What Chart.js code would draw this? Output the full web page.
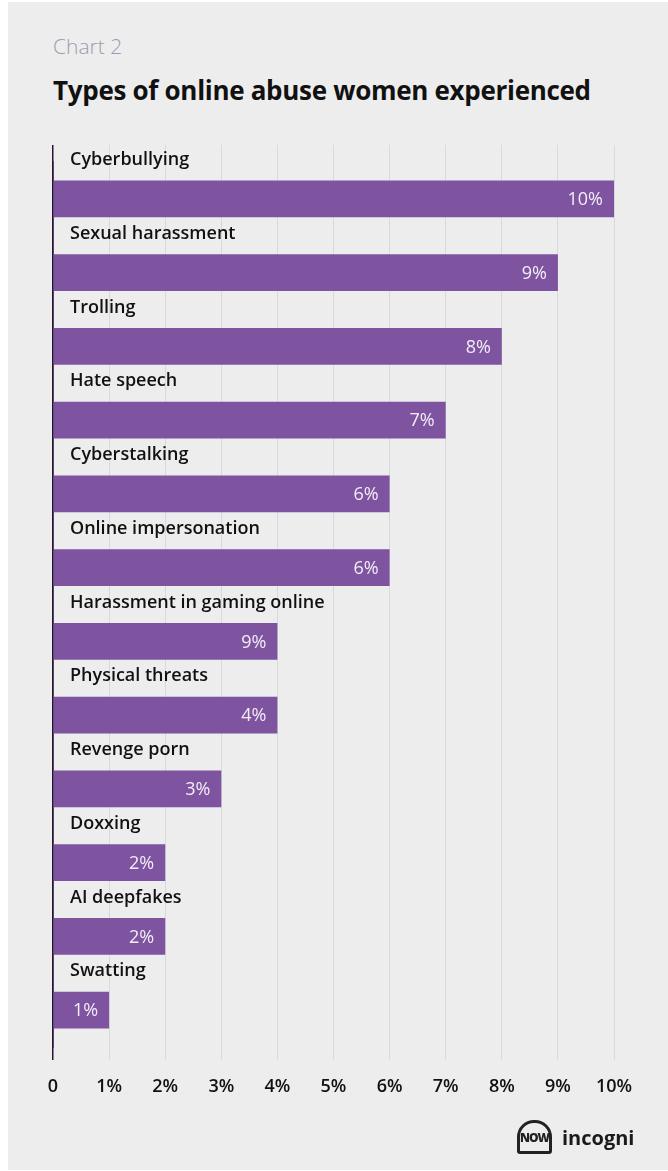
<!DOCTYPE html>
<html>
<head>
<meta charset="utf-8">
<script src="https://cdn.jsdelivr.net/npm/chart.js@4.4.0/dist/chart.umd.min.js"></script>
<style>
  html, body { margin: 0; padding: 0; background: #ffffff; }
  body { width: 668px; height: 1171px; position: relative; overflow: hidden; font-family: "Open Sans", sans-serif; }
  #panel { position: absolute; left: 8px; top: 2px; width: 660px; height: 1168px; background: #ededed; }
  #kicker { position: absolute; left: 53px; top: 32px; font-size: 21px; font-weight: 300; color: #a497b0; }
  #title { position: absolute; left: 53px; top: 72px; font-size: 26px; font-weight: 700; color: #111111; letter-spacing: -0.3px; }
  #wrap { position: absolute; left: 0; top: 0; width: 668px; height: 1171px; }
  #logo { position: absolute; left: 517px; top: 1120px; display: flex; align-items: center; gap: 10px; }
  #logo .mark { width: 35px; height: 34px; border-radius: 17px 17px 3px 3px; border: 3px solid #222; box-sizing: border-box;
    font-size: 12px; font-weight: 800; color: #222; display: flex; align-items: center; justify-content: center; letter-spacing: -1px; }
  #logo .name { font-size: 20px; font-weight: 700; color: #1b1b1b; }
</style>
</head>
<body>
<div id="panel"></div>
<div id="kicker">Chart 2</div>
<div id="title">Types of online abuse women experienced</div>
<div id="wrap"><canvas id="abuseChart"></canvas></div>
<div id="logo"><div class="mark">NOW</div><div class="name">incogni</div></div>
<script>
// --- Data ---
const categories = ["Cyberbullying", "Sexual harassment", "Trolling", "Hate speech", "Cyberstalking",
  "Online impersonation", "Harassment in gaming online", "Physical threats", "Revenge porn",
  "Doxxing", "AI deepfakes", "Swatting"];
const shares = [10, 9, 8, 7, 6, 6, 4, 4, 3, 2, 2, 1];
const shareLabels = ["10%", "9%", "8%", "7%", "6%", "6%", "9%", "4%", "3%", "2%", "2%", "1%"];
const tickLabels = ["0", "1%", "2%", "3%", "4%", "5%", "6%", "7%", "8%", "9%", "10%"];

const FONT = "'Open Sans', 'Noto Sans', sans-serif";
const BAR = "#7e53a0";
const GRID = "#d9d8dd";
const AXIS = "#2b1236";

// value labels sit inside the right end of each bar
const barLabels = {
  id: "barLabels",
  afterDatasetsDraw(chart) {
    const ctx = chart.ctx;
    const meta = chart.getDatasetMeta(0);
    ctx.save();
    ctx.font = "500 18px " + FONT;
    ctx.fillStyle = "#f3edf7";
    ctx.textAlign = "right";
    ctx.textBaseline = "middle";
    meta.data.forEach((bar, i) => {
      ctx.fillText(shareLabels[i], bar.x - 11, bar.y + 1);
    });
    ctx.restore();
  }
};

const gridColor = ctx => ctx.index === 0 ? AXIS : GRID;

function initChart() {
  const ctx = document.getElementById("abuseChart").getContext("2d");
  new Chart(ctx, {
    type: "bar",
    data: {
      labels: categories,
      datasets: [{ data: shares, backgroundColor: BAR, borderWidth: 0, categoryPercentage: 1, barPercentage: 0.5 }]
    },
    options: {
      indexAxis: "y",
      responsive: true,
      maintainAspectRatio: false,
      animation: false,
      layout: { padding: { left: 53, right: 54, top: 145, bottom: 61 } },
      plugins: { legend: { display: false }, tooltip: { enabled: false } },
      scales: {
        x: {
          position: "bottom", min: 0, max: 10,
          afterFit: s => { s.height = 63; },
          border: { display: false },
          grid: { color: gridColor, tickColor: gridColor, lineWidth: ctx => ctx.index === 0 ? 1.5 : 1, tickLength: 13 },
          ticks: { stepSize: 1, padding: 16, color: "#111111", font: { family: FONT, size: 18, weight: "600" },
            callback: (v, i) => tickLabels[i] }
        },
        x2: {
          position: "top", min: 0, max: 10,
          afterFit: s => { s.height = 17; },
          border: { display: false },
          grid: { drawOnChartArea: false, color: gridColor, tickColor: gridColor, lineWidth: ctx => ctx.index === 0 ? 1.5 : 1, tickLength: 17 },
          ticks: { display: false, stepSize: 1 }
        },
        y: {
          afterFit: s => { s.width = 0; },
          border: { display: true, color: AXIS, width: 1.5 },
          grid: { display: false, drawTicks: false },
          ticks: { mirror: true, padding: 17, labelOffset: -39, color: "#111111", font: { family: FONT, size: 18, weight: "600" } }
        }
      }
    },
    plugins: [barLabels]
  });
}

window.onload = initChart;
</script>
</body>
</html>
